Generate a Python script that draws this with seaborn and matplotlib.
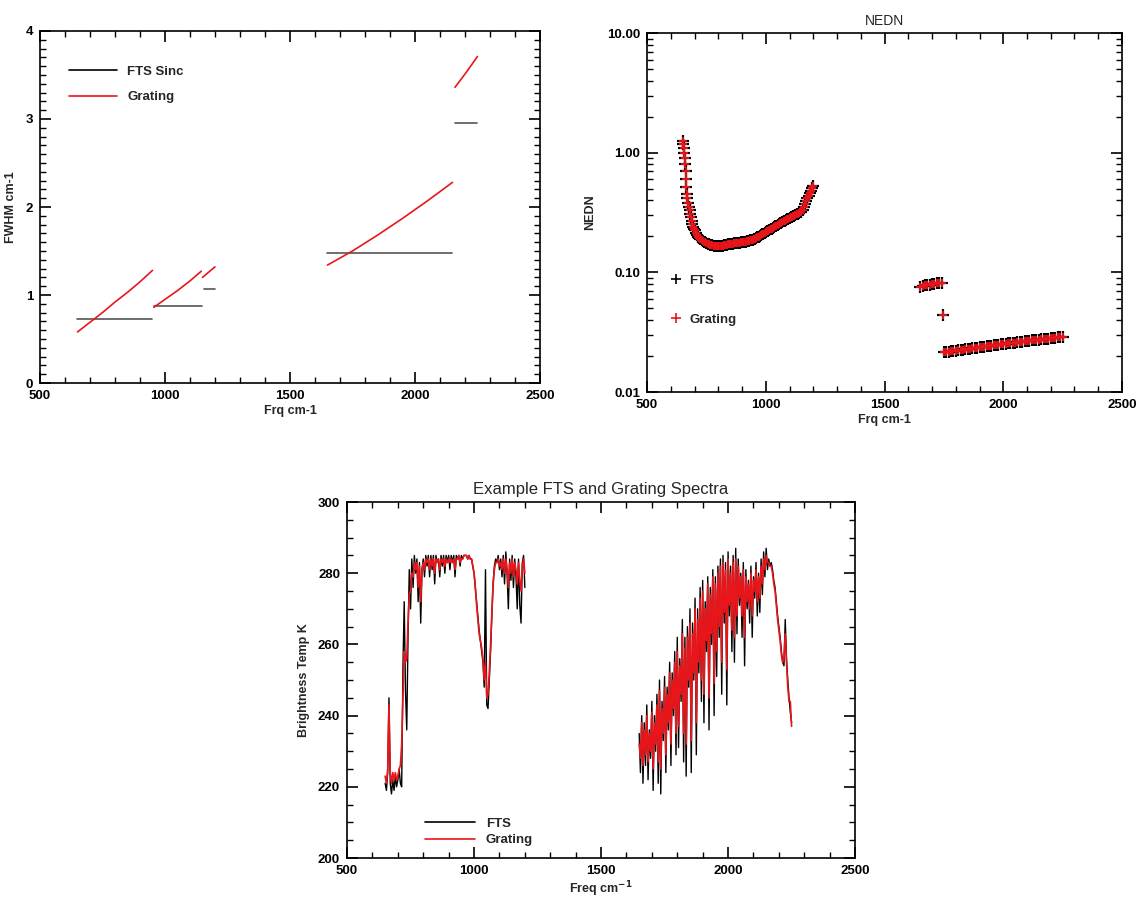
import numpy as np
import pandas as pd
import matplotlib
matplotlib.use("Agg")
import matplotlib.pyplot as plt
from matplotlib.lines import Line2D
from matplotlib.ticker import MultipleLocator, FixedLocator, FuncFormatter
import seaborn as sns

# ---------------- data: FWHM panel ----------------
fts_sinc_segments = [
    ([650, 950], [0.73, 0.73]),
    ([955, 1150], [0.88, 0.88]),
    ([1155, 1200], [1.07, 1.07]),
    ([1650, 2150], [1.48, 1.48]),
    ([2160, 2250], [2.96, 2.96]),
]
grating_segments = [
    ([650, 700, 750, 800, 850, 900, 950], [0.58, 0.69, 0.80, 0.92, 1.03, 1.15, 1.28]),
    ([955, 1000, 1050, 1100, 1145], [0.86, 0.95, 1.05, 1.16, 1.27]),
    ([1150, 1175, 1200], [1.20, 1.26, 1.32]),
    ([1650, 1750, 1850, 1950, 2050, 2150], [1.34, 1.50, 1.68, 1.87, 2.07, 2.28]),
    ([2160, 2205, 2250], [3.36, 3.53, 3.71]),
]

# ---------------- data: NEDN panel ----------------
nedn_freq_a = [650, 652, 654, 656, 658, 660, 662, 664, 666, 668, 670, 673, 676, 679, 682, 685,
               688, 691, 694, 697, 700, 705, 710, 715, 720, 725, 730, 735, 740, 745, 750, 755,
               760, 765, 770, 775, 780, 785, 790, 795, 800, 805, 810, 815, 820, 825, 830, 835,
               840, 845, 850, 855, 860, 865, 870, 875, 880, 885, 890, 895, 900, 905, 910, 915,
               920, 925, 930, 935, 940, 945, 950, 955, 960, 965, 970, 975, 980, 985, 990, 995,
               1000, 1005, 1010, 1015, 1020, 1025, 1030, 1035, 1040, 1045, 1050, 1055, 1060,
               1065, 1070, 1075, 1080, 1085, 1090, 1095, 1100, 1105, 1110, 1115, 1120, 1125,
               1130, 1135, 1140, 1145, 1150, 1155, 1160, 1165, 1170, 1175, 1180, 1185, 1190,
               1195, 1200]
nedn_val_a = [1.25, 1.18, 1.10, 1.00, 0.90, 0.80, 0.70, 0.60, 0.52, 0.45, 0.42, 0.38, 0.35,
              0.33, 0.31, 0.29, 0.27, 0.255, 0.24, 0.23, 0.225, 0.213, 0.205, 0.199, 0.195,
              0.191, 0.187, 0.184, 0.181, 0.178, 0.176, 0.174, 0.172, 0.170, 0.169, 0.168,
              0.167, 0.167, 0.166, 0.166, 0.166, 0.166, 0.166, 0.167, 0.167, 0.168, 0.169,
              0.170, 0.171, 0.172, 0.173, 0.173, 0.174, 0.175, 0.175, 0.176, 0.176, 0.177,
              0.177, 0.178, 0.178, 0.179, 0.180, 0.181, 0.182, 0.183, 0.184, 0.185, 0.186,
              0.187, 0.189, 0.191, 0.193, 0.196, 0.199, 0.202, 0.205, 0.208, 0.211, 0.214,
              0.217, 0.220, 0.223, 0.226, 0.229, 0.232, 0.236, 0.239, 0.243, 0.246, 0.250,
              0.253, 0.257, 0.260, 0.264, 0.267, 0.271, 0.274, 0.278, 0.281, 0.285, 0.288,
              0.291, 0.294, 0.298, 0.301, 0.305, 0.309, 0.313, 0.317, 0.322, 0.335, 0.355,
              0.375, 0.395, 0.415, 0.435, 0.457, 0.480, 0.505, 0.530]
nedn_freq_b = [1650, 1660, 1670, 1680, 1690, 1700, 1710, 1720, 1730, 1740, 1745]
nedn_val_b = [0.076, 0.077, 0.078, 0.078, 0.079, 0.080, 0.080, 0.081, 0.081, 0.082, 0.044]
nedn_freq_c = [1750, 1760, 1770, 1780, 1790, 1800, 1810, 1820, 1830, 1840, 1850, 1860, 1870,
               1880, 1890, 1900, 1910, 1920, 1930, 1940, 1950, 1960, 1970, 1980, 1990, 2000,
               2010, 2020, 2030, 2040, 2050, 2060, 2070, 2080, 2090, 2100, 2110, 2120, 2130,
               2140, 2150, 2160, 2170, 2180, 2190, 2200, 2210, 2220, 2230, 2240, 2250]
nedn_val_c = [0.0215, 0.0217, 0.0218, 0.0219, 0.0221, 0.0222, 0.0223, 0.0225, 0.0226, 0.0228,
              0.0229, 0.0231, 0.0232, 0.0234, 0.0235, 0.0237, 0.0238, 0.0240, 0.0241, 0.0243,
              0.0244, 0.0246, 0.0247, 0.0249, 0.0250, 0.0252, 0.0253, 0.0255, 0.0256, 0.0258,
              0.0259, 0.0261, 0.0262, 0.0264, 0.0265, 0.0267, 0.0268, 0.0270, 0.0271, 0.0273,
              0.0274, 0.0276, 0.0277, 0.0279, 0.0280, 0.0282, 0.0284, 0.0285, 0.0287, 0.0289, 0.0291]

# ---------------- data: spectra panel ----------------
band1_freq = list(range(650, 1201, 5))
band1_fts = [221, 219, 224, 245, 221, 218, 222, 219, 223, 220, 222, 225, 221, 220, 253, 272,
             247, 236, 262, 281, 270, 284, 276, 285, 280, 284, 272, 283, 266, 281, 284, 279,
             285, 282, 285, 279, 285, 281, 285, 277, 285, 283, 284, 279, 285, 282, 285, 280,
             285, 283, 285, 281, 285, 283, 285, 279, 285, 284, 285, 282, 285, 284, 285, 285,
             285, 284, 285, 284, 284, 282, 280, 276, 272, 268, 264, 261, 258, 255, 248, 281,
             243, 242, 250, 258, 268, 277, 282, 284, 283, 285, 281, 284, 279, 285, 277, 286,
             280, 270, 284, 278, 285, 276, 284, 279, 270, 284, 271, 266, 283, 285, 276]
band1_grating = [223, 221, 225, 243, 224, 221, 224, 222, 224, 222, 223, 225, 226, 232, 245, 258,
                 255, 256, 266, 274, 275, 280, 279, 283, 281, 283, 276, 282, 272, 281, 283, 281,
                 284, 283, 284, 281, 284, 282, 284, 280, 284, 283, 284, 281, 284, 283, 284, 282,
                 284, 283, 284, 283, 284, 283, 284, 281, 284, 284, 285, 283, 284, 284, 285, 285,
                 285, 284, 285, 284, 284, 282, 280, 276, 271, 267, 263, 261, 259, 256, 250, 255,
                 245, 246, 252, 260, 269, 277, 281, 283, 283, 284, 282, 283, 281, 284, 280, 284,
                 281, 276, 283, 280, 284, 279, 283, 281, 277, 283, 278, 275, 282, 284, 280]
band2_freq = list(range(1650, 2251, 5))
band2_fts = [235, 224, 240, 221, 238, 226, 243, 222, 236, 228, 244, 219, 240, 230, 246, 221,
             250, 218, 244, 233, 251, 224, 248, 236, 255, 226, 252, 240, 258, 229, 262, 231,
             256, 244, 267, 227, 262, 223, 265, 248, 270, 224, 266, 250, 273, 229, 270, 252,
             276, 244, 278, 238, 272, 258, 279, 236, 276, 260, 281, 240, 279, 251, 282, 262,
             284, 246, 285, 266, 283, 243, 286, 268, 282, 258, 285, 255, 287, 263, 284, 271,
             280, 262, 283, 254, 281, 270, 278, 266, 282, 262, 279, 273, 283, 268, 280, 269,
             284, 274, 286, 279, 287, 281, 284, 282, 283, 281, 278, 276, 272, 268, 265, 262,
             258, 255, 254, 267, 256, 250, 245, 241, 238]
band2_grating = [232, 228, 238, 226, 236, 229, 240, 227, 235, 230, 241, 225, 238, 232, 243, 227,
                 247, 225, 242, 235, 248, 229, 246, 238, 252, 232, 250, 242, 255, 235, 258, 237,
                 254, 246, 263, 235, 259, 232, 262, 250, 266, 233, 263, 252, 270, 238, 267, 255,
                 273, 250, 275, 246, 270, 261, 277, 245, 274, 263, 279, 249, 277, 258, 280, 265,
                 282, 255, 283, 269, 281, 253, 284, 271, 280, 264, 283, 262, 284, 268, 282, 273,
                 279, 268, 281, 262, 279, 272, 277, 270, 280, 268, 278, 275, 281, 272, 279, 273,
                 282, 277, 284, 281, 285, 283, 283, 282, 282, 280, 277, 275, 271, 267, 264, 261,
                 257, 255, 256, 263, 255, 248, 244, 244, 237]

# ---------------- style ----------------
sns.set_theme(style="ticks")
plt.rcParams['font.family'] = ['Liberation Sans', 'DejaVu Sans']
plt.rcParams['font.weight'] = 'bold'
plt.rcParams['axes.labelweight'] = 'bold'
plt.rcParams['axes.linewidth'] = 1.2

fig = plt.figure(figsize=(11.45, 9.01), dpi=100)
fig.patch.set_facecolor('white')
ax1 = fig.add_axes([0.0349, 0.5749, 0.4367, 0.3907])
ax2 = fig.add_axes([0.5651, 0.5649, 0.4148, 0.3984])
ax3 = fig.add_axes([0.3031, 0.0477, 0.4437, 0.3951])

RED = '#e8161b'
TICK_FS = 9.5


def idl_axes(ax):
    for s in ax.spines.values():
        s.set_visible(True)
        s.set_color('black')
        s.set_linewidth(1.2)
    ax.tick_params(which='both', direction='in', top=True, right=True, colors='black',
                   labelsize=TICK_FS, pad=5)
    ax.tick_params(which='major', length=8, width=1.2)
    ax.tick_params(which='minor', length=4, width=1.0)
    ax.set_xlim(500, 2500)
    ax.xaxis.set_major_locator(MultipleLocator(500))
    ax.xaxis.set_minor_locator(MultipleLocator(100))
    for lab in ax.get_xticklabels() + ax.get_yticklabels():
        lab.set_fontweight('bold')
    ax.set_facecolor('white')
    ax.grid(False)


# ---- Panel 1: FWHM ----
for xs, ys in fts_sinc_segments:
    sns.lineplot(x=xs, y=ys, ax=ax1, color='#555555', lw=1.2, estimator=None, sort=False)
for xs, ys in grating_segments:
    sns.lineplot(x=xs, y=ys, ax=ax1, color=RED, lw=1.2, estimator=None, sort=False)
idl_axes(ax1)
ax1.set_ylim(0, 4)
ax1.yaxis.set_major_locator(MultipleLocator(1))
ax1.yaxis.set_minor_locator(MultipleLocator(0.1))
ax1.yaxis.set_major_formatter(FuncFormatter(lambda v, p: f"{int(round(v))}"))
ax1.set_xlabel("Frq cm-1", fontsize=9, labelpad=2)
ax1.set_ylabel("FWHM cm-1", fontsize=9, labelpad=6)
h1 = [Line2D([], [], color='black', lw=1.2), Line2D([], [], color=RED, lw=1.2)]
ax1.legend(h1, ["FTS Sinc", "Grating"], loc='upper left', bbox_to_anchor=(0.035, 0.935),
           frameon=False, handlelength=3.6, handletextpad=0.8, labelspacing=1.0,
           prop={'size': 9.5, 'weight': 'bold'})

# ---- Panel 2: NEDN ----
nf = nedn_freq_a + nedn_freq_b + nedn_freq_c
nv = nedn_val_a + nedn_val_b + nedn_val_c
sns.scatterplot(x=nf, y=nv, ax=ax2, marker='+', s=70, color='black', linewidth=1.6)
sns.scatterplot(x=nf, y=nv, ax=ax2, marker='+', s=40, color=RED, linewidth=1.3)
idl_axes(ax2)
ax2.set_yscale('log')
ax2.set_ylim(0.01, 10)
ax2.yaxis.set_major_locator(FixedLocator([0.01, 0.1, 1, 10]))
ax2.yaxis.set_major_formatter(FuncFormatter(lambda v, p: f"{v:.2f}"))
minors = [m * d for d in (0.01, 0.1, 1) for m in range(2, 10)]
ax2.yaxis.set_minor_locator(FixedLocator(minors))
ax2.yaxis.set_minor_formatter(FuncFormatter(lambda v, p: ""))
ax2.tick_params(which='both', labelsize=TICK_FS)
for lab in ax2.get_xticklabels() + ax2.get_yticklabels():
    lab.set_fontweight('bold')
ax2.set_xlabel("Frq cm-1", fontsize=9, labelpad=2)
ax2.set_ylabel("NEDN", fontsize=9, labelpad=8)
ax2.set_title("NEDN", fontsize=10, fontweight='normal', pad=6)
h2 = [Line2D([], [], color='black', marker='+', ls='none', ms=7, mew=1.2),
      Line2D([], [], color=RED, marker='+', ls='none', ms=7, mew=1.2)]
ax2.legend(h2, ["FTS", "Grating"], loc='upper left', bbox_to_anchor=(0.025, 0.36),
           frameon=False, handlelength=0.8, handletextpad=0.6, labelspacing=2.0,
           prop={'size': 9.5, 'weight': 'bold'})

# ---- Panel 3: spectra ----
sns.lineplot(x=band1_freq, y=band1_fts, ax=ax3, color='black', lw=1.0, estimator=None, sort=False)
sns.lineplot(x=band2_freq, y=band2_fts, ax=ax3, color='black', lw=1.0, estimator=None, sort=False)
sns.lineplot(x=band1_freq, y=band1_grating, ax=ax3, color=RED, lw=1.2, estimator=None, sort=False)
sns.lineplot(x=band2_freq, y=band2_grating, ax=ax3, color=RED, lw=1.2, estimator=None, sort=False)
idl_axes(ax3)
ax3.set_ylim(200, 300)
ax3.yaxis.set_major_locator(MultipleLocator(20))
ax3.yaxis.set_minor_locator(MultipleLocator(5))
ax3.set_xlabel("Freq cm$^{-1}$", fontsize=9, labelpad=2)
ax3.set_ylabel("Brightness Temp K", fontsize=9, labelpad=6)
ax3.set_title("Example FTS and Grating Spectra", fontsize=12, fontweight='normal', pad=6)
h3 = [Line2D([], [], color='black', lw=1.2), Line2D([], [], color=RED, lw=1.2)]
ax3.legend(h3, ["FTS", "Grating"], loc='lower left', bbox_to_anchor=(0.13, 0.0),
           frameon=False, handlelength=3.8, handletextpad=0.8, labelspacing=0.3,
           prop={'size': 9.5, 'weight': 'bold'})

fig.savefig("out.png", dpi=100, facecolor='white')
